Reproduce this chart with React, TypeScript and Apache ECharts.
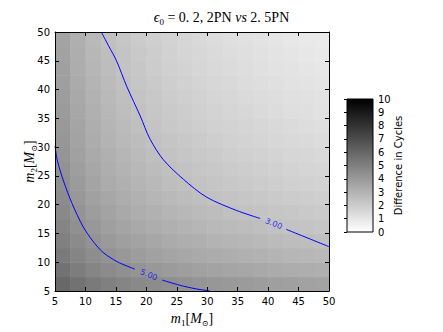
import React, { useEffect, useRef } from 'react';
import * as echarts from 'echarts';

// Cell centres of the colour map (solar masses)
const m1Centers = [6.25, 8.75, 11.25, 13.75, 16.25, 18.75, 21.25, 23.75, 26.25, 28.75, 31.25, 33.75, 36.25, 38.75, 41.25, 43.75, 46.25, 48.75];
const m2Centers = [6.25, 8.75, 11.25, 13.75, 16.25, 18.75, 21.25, 23.75, 26.25, 28.75, 31.25, 33.75, 36.25, 38.75, 41.25, 43.75, 46.25, 48.75];

// Difference in cycles (row = m2 index, column = m1 index), estimated from the grey levels
const cycleDiff = [
  [5.94, 5.53, 5.23, 4.99, 4.80, 4.64, 4.50, 4.38, 4.27, 4.17, 4.08, 3.99, 3.92, 3.84, 3.78, 3.71, 3.66, 3.60],
  [5.53, 5.10, 4.79, 4.55, 4.35, 4.18, 4.04, 3.91, 3.80, 3.70, 3.60, 3.52, 3.44, 3.37, 3.30, 3.23, 3.17, 3.12],
  [5.23, 4.79, 4.47, 4.22, 4.02, 3.85, 3.70, 3.57, 3.46, 3.35, 3.26, 3.17, 3.09, 3.02, 2.95, 2.88, 2.82, 2.76],
  [4.99, 4.55, 4.22, 3.97, 3.76, 3.59, 3.44, 3.30, 3.19, 3.08, 2.98, 2.90, 2.81, 2.74, 2.67, 2.60, 2.54, 2.48],
  [4.80, 4.35, 4.02, 3.76, 3.55, 3.37, 3.22, 3.09, 2.97, 2.86, 2.76, 2.67, 2.59, 2.51, 2.44, 2.37, 2.31, 2.25],
  [4.64, 4.18, 3.85, 3.59, 3.37, 3.19, 3.04, 2.90, 2.78, 2.67, 2.57, 2.48, 2.40, 2.32, 2.25, 2.18, 2.11, 2.05],
  [4.50, 4.04, 3.70, 3.44, 3.22, 3.04, 2.88, 2.74, 2.62, 2.51, 2.41, 2.32, 2.23, 2.15, 2.08, 2.01, 1.95, 1.89],
  [4.38, 3.91, 3.57, 3.30, 3.09, 2.90, 2.74, 2.60, 2.48, 2.37, 2.26, 2.17, 2.09, 2.01, 1.93, 1.86, 1.80, 1.74],
  [4.27, 3.80, 3.46, 3.19, 2.97, 2.78, 2.62, 2.48, 2.35, 2.24, 2.14, 2.04, 1.96, 1.88, 1.80, 1.73, 1.66, 1.60],
  [4.17, 3.70, 3.35, 3.08, 2.86, 2.67, 2.51, 2.37, 2.24, 2.13, 2.02, 1.93, 1.84, 1.76, 1.68, 1.61, 1.55, 1.48],
  [4.08, 3.60, 3.26, 2.98, 2.76, 2.57, 2.41, 2.26, 2.14, 2.02, 1.92, 1.82, 1.73, 1.65, 1.57, 1.50, 1.44, 1.37],
  [3.99, 3.52, 3.17, 2.90, 2.67, 2.48, 2.32, 2.17, 2.04, 1.93, 1.82, 1.72, 1.64, 1.55, 1.48, 1.40, 1.34, 1.27],
  [3.92, 3.44, 3.09, 2.81, 2.59, 2.40, 2.23, 2.09, 1.96, 1.84, 1.73, 1.64, 1.55, 1.46, 1.39, 1.31, 1.25, 1.18],
  [3.84, 3.37, 3.02, 2.74, 2.51, 2.32, 2.15, 2.01, 1.88, 1.76, 1.65, 1.55, 1.46, 1.38, 1.30, 1.23, 1.16, 1.10],
  [3.78, 3.30, 2.95, 2.67, 2.44, 2.25, 2.08, 1.93, 1.80, 1.68, 1.57, 1.48, 1.39, 1.30, 1.22, 1.15, 1.08, 1.02],
  [3.71, 3.23, 2.88, 2.60, 2.37, 2.18, 2.01, 1.86, 1.73, 1.61, 1.50, 1.40, 1.31, 1.23, 1.15, 1.08, 1.01, 0.94],
  [3.66, 3.17, 2.82, 2.54, 2.31, 2.11, 1.95, 1.80, 1.66, 1.55, 1.44, 1.34, 1.25, 1.16, 1.08, 1.01, 0.94, 0.87],
  [3.60, 3.12, 2.76, 2.48, 2.25, 2.05, 1.89, 1.74, 1.60, 1.48, 1.37, 1.27, 1.18, 1.10, 1.02, 0.94, 0.87, 0.81],
];

// Contour lines [m1, m2], split where the inline label sits
const contour5a = [[5, 30.2], [5.4, 27.6], [6.4, 24.1], [7.8, 20.2], [9.6, 16.2], [11.2, 13.7], [12.9, 11.7], [15.2, 10.1], [18.1, 8.8]];
const contour5b = [[22.6, 6.9], [25.5, 6.0], [28, 5.4], [30.4, 5.0]];
const contour3a = [[12.6, 50], [13.8, 47.6], [15.1, 45], [16.8, 40.5], [19, 35.4], [20.6, 31.4], [22.8, 27.8], [26.1, 24.4], [29.9, 21.3], [34.8, 19], [38.7, 17.6]];
const contour3b = [[43, 15.7], [46.5, 14.2], [50, 12.7]];
const contourLabels = [
  { text: '5.00', at: [20.4, 7.8] },
  { text: '3.00', at: [40.9, 16.7] },
];

const massTicks = { min: 5, max: 50, interval: 5 };
const colorRange = { min: 0, max: 10, interval: 1 };
const CELL_HALF = 1.25;

const serif = 'Liberation Serif';
const sans = 'DejaVu Sans';

const mathRich = {
  i: { fontFamily: serif, fontStyle: 'italic', fontWeight: 'normal', fontSize: 14, color: '#000', lineHeight: 18, verticalAlign: 'middle' },
  s: { fontFamily: serif, fontWeight: 'normal', fontSize: 9, color: '#000', lineHeight: 18, verticalAlign: 'bottom' },
  n: { fontFamily: serif, fontWeight: 'normal', fontSize: 14, color: '#000', lineHeight: 18, verticalAlign: 'middle' },
  o: { fontFamily: 'DejaVu Serif', fontWeight: 'normal', fontSize: 8, color: '#000', lineHeight: 18, verticalAlign: 'bottom' },
};

export default function App() {
  const ref = useRef<HTMLDivElement>(null);

  useEffect(() => {
    if (!ref.current) return;
    const chart = echarts.init(ref.current, null, { renderer: 'svg' });

    const heatData: number[][] = [];
    m2Centers.forEach((m2, i) => {
      m1Centers.forEach((m1, j) => {
        heatData.push([m1, m2, cycleDiff[i][j]]);
      });
    });

    const baseAxis = {
      type: 'value',
      min: massTicks.min,
      max: massTicks.max,
      interval: massTicks.interval,
      z: 10,
      splitLine: { show: false },
      axisLine: { show: true, onZero: false, lineStyle: { color: '#000', width: 1 } },
      axisTick: { show: true, inside: true, length: 4, lineStyle: { color: '#000', width: 1 } },
      axisLabel: { color: '#000', fontSize: 10, fontFamily: sans },
    };

    const contourLine = (data: number[][]) => ({
      type: 'line',
      xAxisIndex: 0,
      yAxisIndex: 0,
      data,
      smooth: 0.3,
      showSymbol: false,
      symbol: 'none',
      silent: true,
      z: 5,
      lineStyle: { color: '#0000ff', width: 1 },
    });

    const option: any = {
      animation: false,
      title: {
        text: '{i|ϵ}{s|0}{n| = 0. 2, 2PN }{i|vs}{n| 2. 5PN}',
        left: 'center',
        top: 3,
        textStyle: { fontWeight: 'normal', rich: mathRich },
      },
      grid: [
        { left: 55, top: 32, width: 274, height: 266 },
        { left: 347, top: 99, width: 26, height: 133 },
      ],
      visualMap: {
        show: false,
        type: 'continuous',
        min: colorRange.min,
        max: colorRange.max,
        dimension: 2,
        seriesIndex: 0,
        inRange: { color: ['#ffffff', '#000000'] },
      },
      xAxis: [
        {
          ...baseAxis,
          gridIndex: 0,
          position: 'bottom',
          axisLabel: { ...baseAxis.axisLabel, margin: 5 },
          name: '{i|m}{s|1}{n|[}{i|M}{o|⊙}{n|]}',
          nameLocation: 'middle',
          nameGap: 18,
          nameMoveOverlap: false,
          nameTextStyle: { rich: mathRich },
        },
        { ...baseAxis, gridIndex: 0, position: 'top', axisLabel: { show: false } },
        { type: 'value', gridIndex: 1, min: 0, max: 1, show: false },
      ],
      yAxis: [
        {
          ...baseAxis,
          gridIndex: 0,
          position: 'left',
          axisLabel: { ...baseAxis.axisLabel, margin: 5 },
          name: '{i|m}{s|2}{n|[}{i|M}{o|⊙}{n|]}',
          nameLocation: 'middle',
          nameGap: 17,
          nameRotate: 90,
          nameMoveOverlap: false,
          nameTextStyle: { rich: mathRich },
        },
        { ...baseAxis, gridIndex: 0, position: 'right', axisLabel: { show: false } },
        {
          type: 'value',
          gridIndex: 1,
          min: colorRange.min,
          max: colorRange.max,
          interval: colorRange.interval,
          position: 'right',
          z: 10,
          splitLine: { show: false },
          axisLine: { show: false },
          axisTick: { show: true, inside: true, length: 3, lineStyle: { color: '#000' } },
          axisLabel: { color: '#000', fontSize: 10, fontFamily: sans, margin: 5 },
          name: 'Difference in Cycles',
          nameLocation: 'middle',
          nameRotate: 90,
          nameGap: 20,
          nameMoveOverlap: false,
          nameTextStyle: { color: '#000', fontSize: 10, fontFamily: sans },
        },
      ],
      series: [
        {
          type: 'custom',
          xAxisIndex: 0,
          yAxisIndex: 0,
          data: heatData,
          encode: { x: 0, y: 1 },
          clip: true,
          silent: true,
          z: 1,
          renderItem: (params: any, api: any) => {
            const cx = api.value(0);
            const cy = api.value(1);
            const a = api.coord([cx - CELL_HALF, cy + CELL_HALF]);
            const b = api.coord([cx + CELL_HALF, cy - CELL_HALF]);
            return {
              type: 'rect',
              shape: { x: a[0], y: a[1], width: b[0] - a[0] + 0.6, height: b[1] - a[1] + 0.6 },
              style: { fill: api.visual('color') },
            };
          },
        },
        contourLine(contour5a),
        contourLine(contour5b),
        contourLine(contour3a),
        contourLine(contour3b),
        {
          type: 'scatter',
          xAxisIndex: 0,
          yAxisIndex: 0,
          data: contourLabels.map((l) => ({ value: l.at, name: l.text })),
          symbolSize: 2,
          silent: true,
          z: 6,
          itemStyle: { color: 'rgba(0,0,0,0)' },
          labelLayout: { hideOverlap: false },
          label: {
            show: true,
            position: 'inside',
            formatter: (p: any) => p.name,
            rotate: -22,
            color: '#0000ff',
            fontSize: 8,
            fontFamily: sans,
          },
        },
        {
          type: 'custom',
          xAxisIndex: 2,
          yAxisIndex: 2,
          data: [[0, colorRange.min, colorRange.max]],
          clip: false,
          silent: true,
          z: 1,
          renderItem: (params: any, api: any) => {
            const lo = api.coord([0, api.value(1)]);
            const hi = api.coord([1, api.value(2)]);
            return {
              type: 'rect',
              shape: { x: lo[0], y: hi[1], width: hi[0] - lo[0], height: lo[1] - hi[1] },
              style: {
                fill: new echarts.graphic.LinearGradient(0, 0, 0, 1, [
                  { offset: 0, color: '#000000' },
                  { offset: 1, color: '#ffffff' },
                ]),
                stroke: '#000',
                lineWidth: 1,
              },
            };
          },
        },
      ],
    };

    chart.setOption(option);
    return () => chart.dispose();
  }, []);

  return (
    <div
      ref={ref}
      style={{ position: 'absolute', left: 0, top: 0, width: 443, height: 332, background: '#fff' }}
    />
  );
}
